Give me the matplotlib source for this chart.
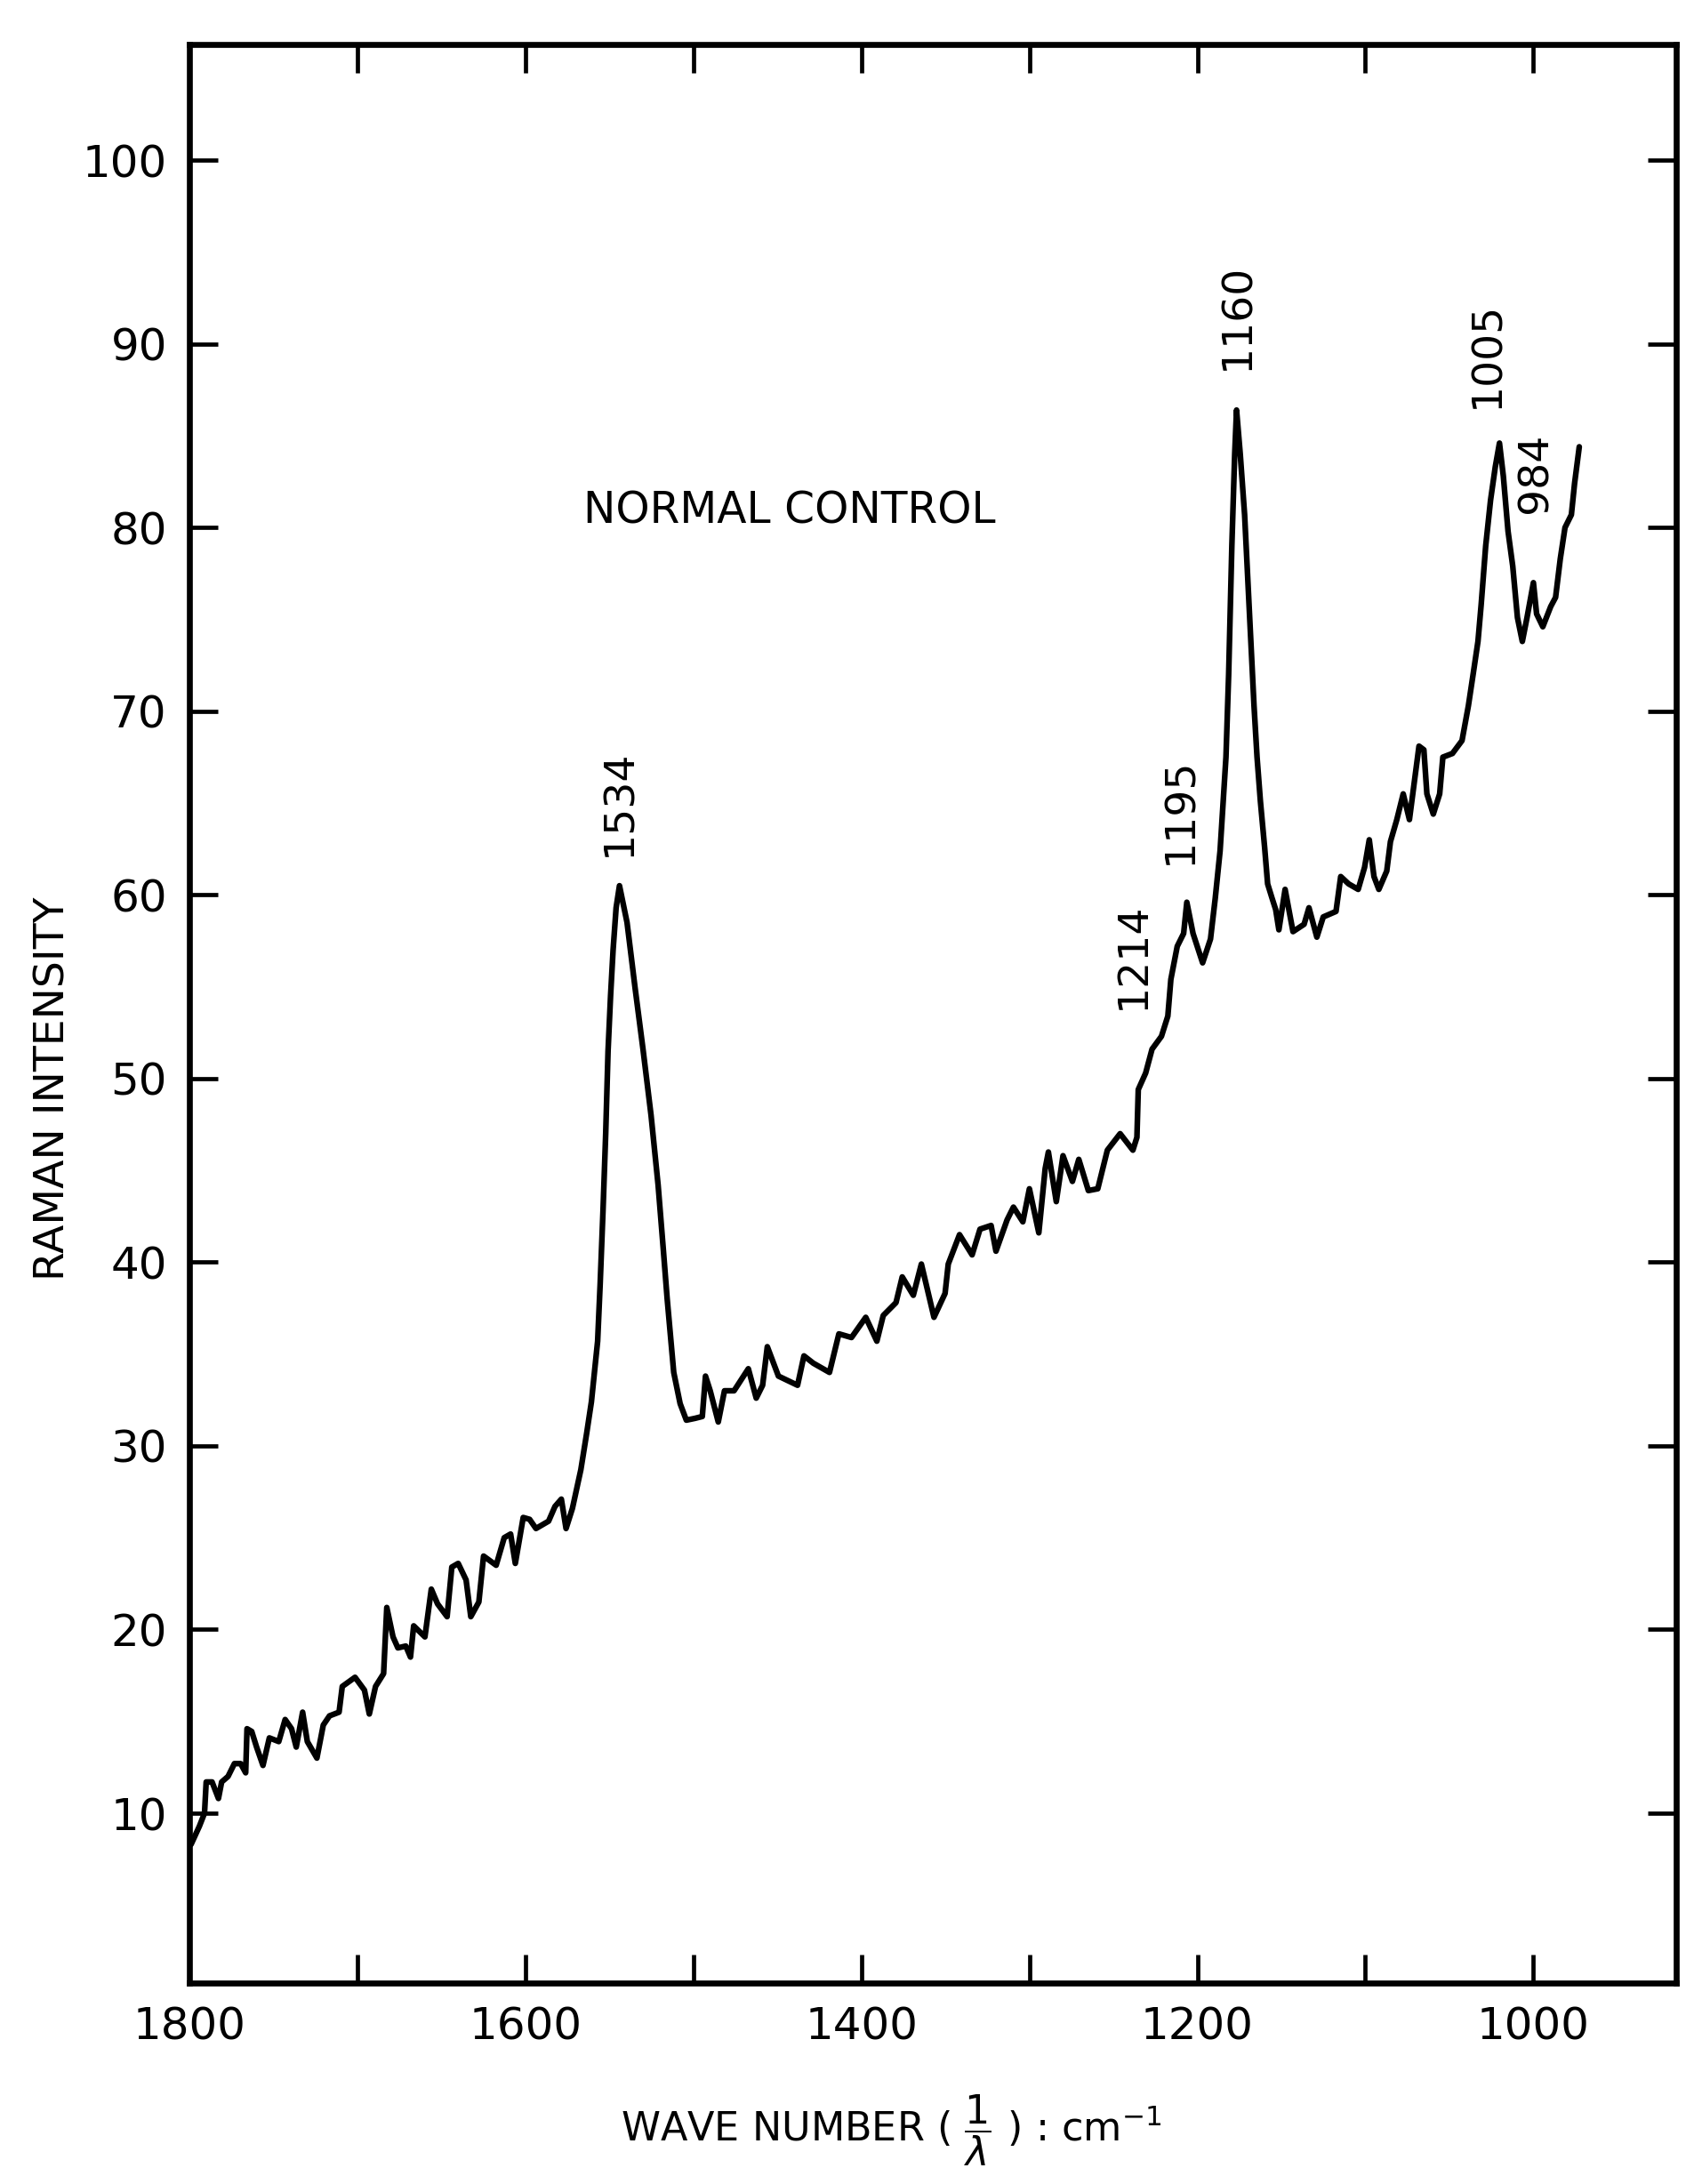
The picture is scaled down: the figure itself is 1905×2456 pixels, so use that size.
import matplotlib

matplotlib.use("Agg")

import matplotlib.pyplot as plt

# Raman spectrum
wave_number = [
    1799.0, 1794.0, 1791.0, 1790.0, 1786.5, 1782.7, 1780.8, 1777.0, 1773.2, 1769.5,
    1766.5, 1765.7, 1762.9, 1760.0, 1756.2, 1752.4, 1746.8, 1743.0, 1739.2, 1736.4,
    1732.6, 1729.8, 1724.1, 1720.3, 1716.6, 1710.9, 1709.0, 1701.4, 1695.8, 1692.9,
    1689.2, 1684.4, 1682.5, 1678.8, 1675.9, 1671.2, 1668.4, 1666.5, 1659.8, 1656.0,
    1652.3, 1646.6, 1643.8, 1640.0, 1635.3, 1632.5, 1627.7, 1624.9, 1617.4, 1612.6,
    1608.8, 1606.0, 1601.3, 1597.5, 1593.7, 1586.2, 1582.4, 1578.6, 1575.8, 1572.0,
    1567.0, 1563.5, 1560.7, 1557.0, 1555.5, 1553.8, 1552.2, 1550.8, 1549.3, 1547.8,
    1546.0, 1544.0, 1542.0, 1539.5, 1534.8, 1530.0, 1525.2, 1521.0, 1518.0, 1515.6,
    1511.7, 1507.9, 1504.2, 1499.0, 1494.7, 1492.8, 1490.0, 1485.2, 1481.5, 1475.8,
    1467.3, 1462.6, 1458.8, 1456.0, 1449.4, 1438.0, 1434.2, 1428.6, 1419.0, 1413.4,
    1405.9, 1397.4, 1390.8, 1387.0, 1379.4, 1375.7, 1369.1, 1364.3, 1356.8, 1350.2,
    1348.3, 1341.6, 1334.1, 1329.4, 1322.8, 1319.9, 1313.3, 1309.5, 1303.9, 1300.0,
    1294.4, 1290.6, 1288.7, 1284.0, 1280.0, 1274.4, 1270.6, 1264.9, 1259.3, 1253.6,
    1246.0, 1238.4, 1236.0, 1235.2, 1230.8, 1227.0, 1221.4, 1217.6, 1215.8, 1212.0,
    1208.2, 1206.3, 1202.6, 1196.9, 1192.2, 1189.4, 1186.5, 1184.7, 1183.0, 1181.4,
    1179.5, 1177.8, 1176.7, 1174.5, 1171.9, 1169.1, 1166.3, 1164.5, 1162.5, 1160.0,
    1158.2, 1155.5, 1153.4, 1151.5, 1147.8, 1143.1, 1136.5, 1133.6, 1128.9, 1125.1,
    1117.5, 1114.7, 1110.0, 1104.3, 1100.5, 1097.7, 1094.9, 1092.0, 1087.3, 1085.1,
    1081.3, 1077.5, 1073.8, 1068.1, 1065.2, 1063.4, 1059.6, 1055.8, 1053.9, 1048.2,
    1042.5, 1038.7, 1035.9, 1033.0, 1031.1, 1028.4, 1025.5, 1022.7, 1020.2, 1017.9,
    1015.1, 1012.3, 1009.5, 1006.6, 1003.8, 1000.0, 998.1, 994.4, 989.7, 986.8,
    984.0, 981.2, 977.4, 975.5, 972.7,
]
intensity = [
    8.3, 9.3, 10.0, 11.7, 11.7, 10.8, 11.7, 12.0, 12.7, 12.7,
    12.2, 14.6, 14.45, 13.6, 12.6, 14.1, 13.9, 15.1, 14.6, 13.6,
    15.5, 13.9, 13.0, 14.8, 15.3, 15.5, 16.9, 17.4, 16.7, 15.4,
    16.9, 17.6, 21.2, 19.6, 19.0, 19.1, 18.5, 20.2, 19.6, 22.2,
    21.4, 20.7, 23.4, 23.6, 22.7, 20.7, 21.5, 24.0, 23.5, 25.0,
    25.2, 23.6, 26.1, 26.0, 25.5, 25.9, 26.7, 27.1, 25.5, 26.6,
    28.7, 30.7, 32.4, 35.7, 38.8, 42.8, 47.0, 51.5, 54.5, 57.0,
    59.3, 60.5, 59.6, 58.5, 55.0, 51.6, 48.0, 44.2, 40.8, 38.0,
    34.0, 32.3, 31.4, 31.5, 31.6, 33.8, 33.0, 31.3, 33.0, 33.0,
    34.2, 32.6, 33.3, 35.4, 33.8, 33.3, 34.9, 34.5, 34.0, 36.1,
    35.9, 37.0, 35.7, 37.1, 37.8, 39.2, 38.2, 39.9, 37.0, 38.3,
    39.9, 41.5, 40.4, 41.8, 42.0, 40.6, 42.3, 43.0, 42.2, 44.0,
    41.6, 45.1, 46.0, 43.3, 45.8, 44.4, 45.6, 43.9, 44.0, 46.1,
    47.0, 46.1, 46.8, 49.4, 50.3, 51.6, 52.3, 53.4, 55.4, 57.2,
    57.9, 59.6, 57.9, 56.3, 57.6, 59.8, 62.4, 65.0, 67.5, 72.0,
    79.0, 84.0, 86.4, 84.0, 80.7, 75.5, 70.3, 67.5, 65.1, 62.6,
    60.6, 59.8, 59.2, 58.1, 60.3, 58.0, 58.4, 59.3, 57.7, 58.8,
    59.1, 61.0, 60.6, 60.3, 61.5, 63.0, 61.0, 60.3, 61.3, 62.9,
    64.1, 65.5, 64.1, 68.1, 67.9, 65.5, 64.4, 65.5, 67.5, 67.7,
    68.4, 70.3, 72.0, 73.8, 75.8, 79.0, 81.5, 83.3, 84.6, 82.8,
    79.8, 77.9, 75.1, 73.8, 75.1, 77.0, 75.3, 74.6, 75.7, 76.2,
    78.3, 80.0, 80.7, 82.4, 84.4,
]

# peak annotations: text, wave number, intensity (label centre)
peak_labels = ["1534", "1214", "1195", "1160", "1005", "984"]
peak_x = [1544.0, 1238.0, 1210.0, 1176.0, 1027.5, 998.5]
peak_y = [65.0, 56.7, 64.6, 91.5, 89.4, 83.0]

x_ticks = [1800, 1700, 1600, 1500, 1400, 1300, 1200, 1100, 1000]
x_tick_labels = ["1800", "", "1600", "", "1400", "", "1200", "", "1000"]
y_ticks = [10, 20, 30, 40, 50, 60, 70, 80, 90, 100]

plt.rcParams["font.family"] = ["DejaVu Sans"]
plt.rcParams["mathtext.fontset"] = "dejavusans"

fig = plt.figure(figsize=(19.05, 24.56), dpi=100)
ax = fig.add_axes([0.1118, 0.092, 0.8777, 0.8876])

ax.plot(wave_number, intensity, color="black", linewidth=4.6,
        solid_joinstyle="round", solid_capstyle="round")

ax.set_xlim(1800, 915)
ax.set_ylim(0.75, 106.3)

ax.set_xticks(x_ticks)
ax.set_xticklabels(x_tick_labels)
ax.set_yticks(y_ticks)
ax.set_yticklabels([str(v) for v in y_ticks])

ax.tick_params(axis="both", which="major", direction="in", top=True, right=True,
               length=23, width=3.4, labelsize=36, pad=18)
for spine in ax.spines.values():
    spine.set_linewidth(4.8)

for text, x, y in zip(peak_labels, peak_x, peak_y):
    ax.text(x, y, text, rotation=90, ha="center", va="center", fontsize=34)

ax.text(1443, 80.9, "NORMAL CONTROL", ha="center", va="center", fontsize=35)

fig.text(0.0315, 0.5016, "RAMAN INTENSITY", rotation=90, ha="center", va="center",
         fontsize=34)
fig.text(0.526, 0.0195, r"WAVE NUMBER ( $\dfrac{1}{\lambda}$ ) : cm$^{-1}$",
         ha="center", va="baseline", fontsize=32)

fig.savefig("out.png", dpi=100, facecolor="white")
plt.close(fig)
